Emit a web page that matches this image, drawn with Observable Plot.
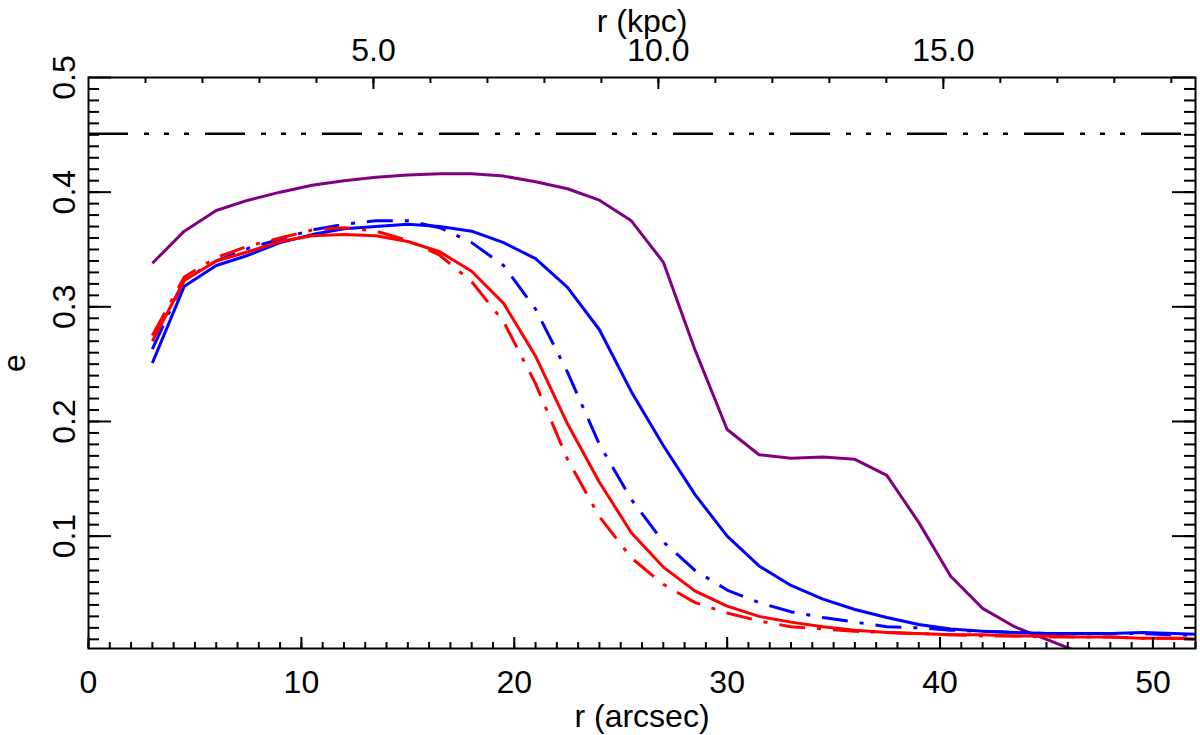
<!DOCTYPE html>
<html>
<head>
<meta charset="utf-8">
<script src="https://cdn.jsdelivr.net/npm/d3@7"></script>
<script src="https://cdn.jsdelivr.net/npm/@observablehq/plot@0.6"></script>
<style>
  html, body { margin: 0; padding: 0; background: #fff; }
  #chart { width: 1200px; height: 735px; }
</style>
</head>
<body>
<div id="chart"></div>
<script>
// radius (arcsec) sampling
const radius = [3, 4.5, 6, 7.5, 9, 10.5, 12, 13.5, 15, 16.5, 18, 19.5, 21, 22.5, 24, 25.5, 27, 28.5, 30, 31.5, 33, 34.5, 36, 37.5, 39, 40.5, 42, 43.5, 45, 46.5, 48, 49.5, 51, 52.5];

const purpleSolid = [0.338, 0.366, 0.384, 0.393, 0.400, 0.406, 0.410, 0.413, 0.415, 0.416, 0.416, 0.414, 0.409, 0.403, 0.393, 0.375, 0.339, 0.262, 0.193, 0.171, 0.168, 0.169, 0.167, 0.153, 0.112, 0.065, 0.037, 0.021, 0.010, -0.001, -0.010, -0.020, -0.030, -0.040];

const blueSolid = [0.251, 0.318, 0.336, 0.345, 0.356, 0.363, 0.368, 0.370, 0.372, 0.370, 0.366, 0.356, 0.342, 0.317, 0.280, 0.226, 0.179, 0.136, 0.100, 0.074, 0.057, 0.045, 0.036, 0.029, 0.023, 0.019, 0.017, 0.016, 0.015, 0.015, 0.015, 0.016, 0.015, 0.014];

const blueDashDot = [0.263, 0.324, 0.340, 0.351, 0.359, 0.367, 0.372, 0.375, 0.375, 0.369, 0.356, 0.336, 0.298, 0.243, 0.180, 0.132, 0.095, 0.070, 0.053, 0.042, 0.034, 0.029, 0.025, 0.021, 0.020, 0.018, 0.017, 0.016, 0.015, 0.015, 0.015, 0.015, 0.014, 0.013];

const redSolid = [0.270, 0.323, 0.340, 0.348, 0.357, 0.362, 0.363, 0.362, 0.357, 0.348, 0.331, 0.303, 0.257, 0.198, 0.147, 0.103, 0.073, 0.052, 0.039, 0.030, 0.025, 0.021, 0.018, 0.016, 0.015, 0.014, 0.014, 0.013, 0.013, 0.012, 0.012, 0.011, 0.011, 0.010];

const redDashDot = [0.275, 0.326, 0.343, 0.353, 0.360, 0.367, 0.369, 0.366, 0.358, 0.345, 0.322, 0.287, 0.233, 0.167, 0.117, 0.081, 0.058, 0.042, 0.033, 0.026, 0.021, 0.019, 0.017, 0.016, 0.015, 0.014, 0.013, 0.013, 0.012, 0.012, 0.012, 0.011, 0.011, 0.011];

const referenceLevel = [0.451];

// axis ticks and labels
const xTickLabels = [0, 10, 20, 30, 40, 50];
const xMinorTicks = d3.range(0, 53, 1);
const kpcTickLabels = [5, 10, 15];
const kpcMinorTicks = d3.range(1, 20, 1);
const arcsecPerKpc = 2.677;
const yTickLabels = [0.1, 0.2, 0.3, 0.4, 0.5];
const yMinorTicks = d3.range(1, 50).map(i => i / 100);

const W = 1200, H = 735;
const mL = 88, mR = 5, mT = 77, mB = 87;
const innerW = W - mL - mR, innerH = H - mT - mB;

const table = (vals) => radius.map((r, i) => ({r, e: vals[i]}));

const series = [
  {vals: purpleSolid, stroke: "#800080", dash: null},
  {vals: blueSolid, stroke: "#0000ff", dash: null},
  {vals: blueDashDot, stroke: "#0000ff", dash: "26,12,4,12"},
  {vals: redSolid, stroke: "#ff0000", dash: null},
  {vals: redDashDot, stroke: "#ff0000", dash: "26,12,4,12"}
];

const font = "'Liberation Sans', Arial, Helvetica, sans-serif";

const chart = Plot.plot({
  width: W,
  height: H,
  marginLeft: mL,
  marginRight: mR,
  marginTop: mT,
  marginBottom: mB,
  style: {fontFamily: font, fontSize: "32px", background: "#fff", color: "#000"},
  x: {domain: [0, 52], axis: null},
  y: {domain: [0.002, 0.5], axis: null},
  marks: [
    // data curves
    ...series.map(s => Plot.line(table(s.vals), {
      x: "r", y: "e", stroke: s.stroke, strokeWidth: 3,
      strokeDasharray: s.dash, strokeLinejoin: "miter", strokeLinecap: "butt", clip: true
    })),
    // horizontal reference
    Plot.ruleY(referenceLevel, {stroke: "#000", strokeWidth: 2.5, strokeDasharray: "40,16,5,15,5,15,5,16"}),
    // frame
    Plot.frame({stroke: "#000", strokeWidth: 2}),
    // bottom ticks (inward)
    Plot.tickX(xMinorTicks, {x: d => d, insetTop: innerH - 6, stroke: "#000", strokeWidth: 2}),
    Plot.tickX(xTickLabels, {x: d => d, insetTop: innerH - 11, stroke: "#000", strokeWidth: 2}),
    // top ticks (kpc, inward)
    Plot.tickX(kpcMinorTicks, {x: d => d * arcsecPerKpc, insetBottom: innerH - 6, stroke: "#000", strokeWidth: 2}),
    Plot.tickX(kpcTickLabels, {x: d => d * arcsecPerKpc, insetBottom: innerH - 12, stroke: "#000", strokeWidth: 2}),
    // left ticks
    Plot.tickY(yMinorTicks, {y: d => d, insetRight: innerW - 11, stroke: "#000", strokeWidth: 2}),
    Plot.tickY(yTickLabels, {y: d => d, insetRight: innerW - 23, stroke: "#000", strokeWidth: 2}),
    // right ticks
    Plot.tickY(yMinorTicks, {y: d => d, insetLeft: innerW - 11, stroke: "#000", strokeWidth: 2}),
    Plot.tickY(yTickLabels, {y: d => d, insetLeft: innerW - 23, stroke: "#000", strokeWidth: 2}),
    // bottom labels
    Plot.text(xTickLabels, {x: d => d, text: d => String(d), frameAnchor: "bottom", lineAnchor: "bottom", dy: 44, fontSize: 32, fill: "#000"}),
    Plot.text(["r (arcsec)"], {text: d => d, frameAnchor: "bottom", lineAnchor: "bottom", dy: 78, fontSize: 32, fill: "#000"}),
    // top labels
    Plot.text(kpcTickLabels, {x: d => d * arcsecPerKpc, text: d => d.toFixed(1), frameAnchor: "top", lineAnchor: "bottom", dy: -17, fontSize: 32, fill: "#000"}),
    Plot.text(["r (kpc)"], {text: d => d, frameAnchor: "top", lineAnchor: "bottom", dy: -46, fontSize: 32, fill: "#000"}),
    // left labels (rotated)
    Plot.text(yTickLabels, {y: d => d, text: d => d.toFixed(1), frameAnchor: "left", rotate: -90, textAnchor: "middle", lineAnchor: "bottom", dx: -14, fontSize: 32, fill: "#000"}),
    Plot.text(["e"], {text: d => d, frameAnchor: "left", rotate: -90, textAnchor: "middle", lineAnchor: "bottom", dx: -64, fontSize: 32, fill: "#000"})
  ]
});

document.getElementById("chart").appendChild(chart);
</script>
</body>
</html>
